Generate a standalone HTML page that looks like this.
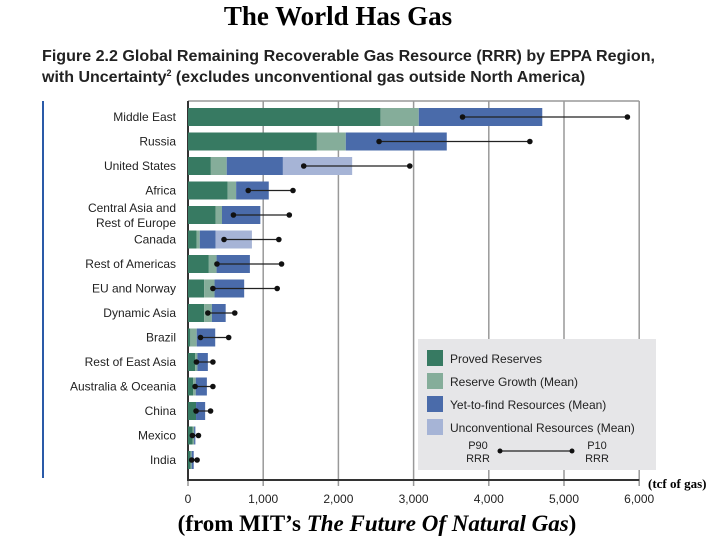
<!DOCTYPE html>
<html><head><meta charset="utf-8"><style>
body{margin:0;background:#fff;}
svg text{font-family:"Liberation Sans",sans-serif;}
</style></head><body>
<svg width="720" height="540" viewBox="0 0 720 540">
<text x="338" y="25" text-anchor="middle" style="font-family:'Liberation Serif',serif" font-size="27" font-weight="bold">The World Has Gas</text>
<text x="42" y="61" font-size="16" font-weight="bold" fill="#222" textLength="613" lengthAdjust="spacingAndGlyphs">Figure 2.2  Global Remaining Recoverable Gas Resource (RRR) by EPPA Region,</text>
<text x="42" y="82" font-size="16" font-weight="bold" fill="#222">with Uncertainty<tspan font-size="9" dy="-6">2</tspan><tspan dy="6"> (excludes unconventional gas outside North America)</tspan></text>
<line x1="43" y1="101" x2="43" y2="478" stroke="#2a5aa8" stroke-width="2"/>
<g id="grid"></g>
<g id="bars"></g>
<g id="legend">
<rect x="418" y="339" width="238" height="131" fill="#e6e6e8"/>
<rect x="427" y="350" width="16" height="16" fill="#377a62"/><text x="450" y="363" font-size="12" fill="#222">Proved Reserves</text>
<rect x="427" y="373" width="16" height="16" fill="#85ad9a"/><text x="450" y="386" font-size="12" fill="#222">Reserve Growth (Mean)</text>
<rect x="427" y="396" width="16" height="16" fill="#4a6baa"/><text x="450" y="409" font-size="12" fill="#222">Yet-to-find Resources (Mean)</text>
<rect x="427" y="419" width="16" height="16" fill="#a6b4d6"/><text x="450" y="432" font-size="12" fill="#222">Unconventional Resources (Mean)</text>
<text x="478" y="449" font-size="11" text-anchor="middle" fill="#222">P90</text><text x="478" y="462" font-size="11" text-anchor="middle" fill="#222">RRR</text>
<text x="597" y="449" font-size="11" text-anchor="middle" fill="#222">P10</text><text x="597" y="462" font-size="11" text-anchor="middle" fill="#222">RRR</text>
<line x1="500" y1="451" x2="572" y2="451" stroke="#222" stroke-width="1.2"/>
<circle cx="500" cy="451" r="2.5" fill="#111"/><circle cx="572" cy="451" r="2.5" fill="#111"/>
</g>
<text x="648" y="488" font-size="13" font-weight="bold" style="font-family:'Liberation Serif',serif">(tcf of gas)</text>
<text x="377" y="531" text-anchor="middle" font-size="23" font-weight="bold" style="font-family:'Liberation Serif',serif">(from MIT’s <tspan font-style="italic">The Future Of Natural Gas</tspan>)</text>
</svg>
<script>
const regions=["Middle East","Russia","United States","Africa","Central Asia and Rest of Europe","Canada","Rest of Americas","EU and Norway","Dynamic Asia","Brazil","Rest of East Asia","Australia & Oceania","China","Mexico","India"];
const proved=[2559,1714,304,528,367,116,277,215,215,31,94,67,107,63,36];
const growth=[510,384,211,112,85,41,103,138,103,85,31,36,0,18,13];
const ytf=[1642,1343,747,434,510,210,443,394,183,246,139,148,121,17,27];
const unconv=[0,0,921,0,0,483,0,0,0,0,0,0,0,0,0];
const p90=[3651,2541,1539,801,604,479,385,331,264,166,112,94,107,58,49];
const p10=[5843,4546,2949,1396,1347,1208,1244,1186,622,541,331,331,300,139,121];
const ticks=[0,1000,2000,3000,4000,5000,6000];
const tickLabels=["0","1,000","2,000","3,000","4,000","5,000","6,000"];
const NS="http://www.w3.org/2000/svg";
const X=v=>188+v*0.0752;
const Y=i=>117+i*24.5;
function mk(tag,attrs,parent){const e=document.createElementNS(NS,tag);for(const k in attrs)e.setAttribute(k,attrs[k]);parent.appendChild(e);return e;}
const grid=document.getElementById('grid'),bars=document.getElementById('bars');
mk('line',{x1:188,y1:101,x2:X(6000),y2:101,stroke:'#999','stroke-width':1.5},grid);
ticks.forEach((t,i)=>{
 const l=mk('line',{x1:X(t),y1:101,x2:X(t),y2:486,stroke:'#999','stroke-width':1.5},grid);
 
 
 const tx=mk('text',{x:X(t),y:503,'text-anchor':'middle','font-size':12,fill:'#222'},grid);
 tx.textContent=tickLabels[i];
 
 
});
mk('line',{x1:188,y1:480,x2:X(6000),y2:480,stroke:'#333','stroke-width':2},grid);
mk('line',{x1:188,y1:101,x2:188,y2:481,stroke:'#333','stroke-width':2},grid);
const cols=['#377a62','#85ad9a','#4a6baa','#a6b4d6'];
regions.forEach((r,i)=>{
 const y=Y(i);
 let acc=0;
 [proved[i],growth[i],ytf[i],unconv[i]].forEach((v,k)=>{
  if(v<=0)return;
  const b=mk('rect',{x:X(acc),y:y-9,width:X(acc+v)-X(acc),height:18,fill:cols[k]},bars);
  
  
  acc+=v;
 });
 const ln=mk('line',{x1:X(p90[i]),y1:y,x2:X(p10[i]),y2:y,stroke:'#222','stroke-width':1.2},bars);
 
 
 mk('circle',{cx:X(p90[i]),cy:y,r:2.8,fill:'#111'},bars);
 mk('circle',{cx:X(p10[i]),cy:y,r:2.8,fill:'#111'},bars);
 if(r==="Central Asia and Rest of Europe"){
  const a=mk('text',{x:176,y:y-3,'text-anchor':'end','font-size':12,fill:'#222'},bars);a.textContent="Central Asia and";
  
  
  const c=mk('text',{x:176,y:y+12,'text-anchor':'end','font-size':12,fill:'#222'},bars);c.textContent="Rest of Europe";
  
  
 } else {
  const t=mk('text',{x:176,y:y+4,'text-anchor':'end','font-size':12,fill:'#222'},bars);t.textContent=r;
  
  
 }
});
</script>
</body></html>
